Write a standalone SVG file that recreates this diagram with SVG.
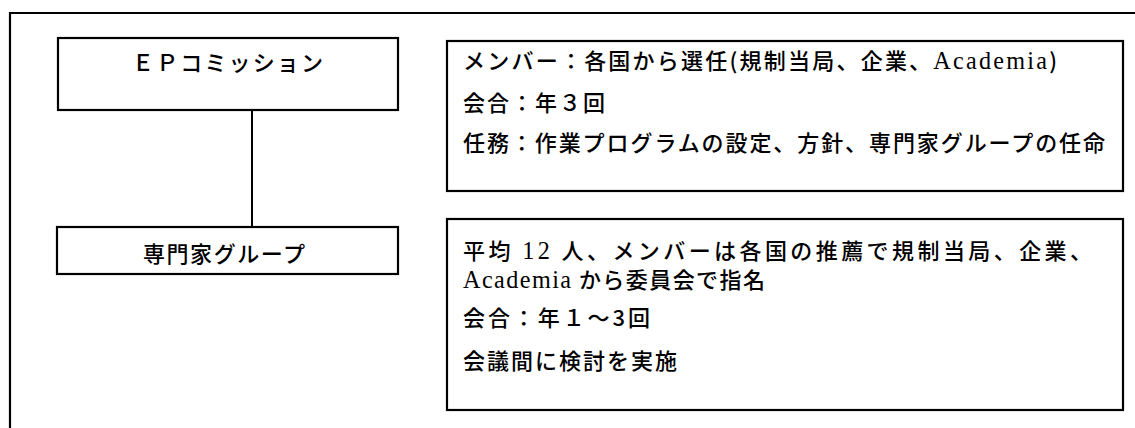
<svg xmlns="http://www.w3.org/2000/svg" width="1135" height="428" viewBox="0 0 1135 428">
<style>
.box{fill:#fff;stroke:#000;stroke-width:2.2}
.frame{fill:none;stroke:#000;stroke-width:2.2}
.t{font-family:"Noto Sans CJK JP","Liberation Sans",sans-serif;font-size:22px;font-weight:500;fill:#000}
.lat{font-family:"Liberation Serif","Noto Sans CJK JP",serif;font-weight:400;font-size:1.1em}
.conn{stroke:#000;stroke-width:2;fill:none}
</style>
<rect width="1135" height="428" fill="#fff"/>
<path class="frame" d="M10,428 V13 H1135"/>
<g id="connectors">
<line class="conn" x1="252" y1="110" x2="252" y2="227"/>
</g>
<g id="ep-commission">
<rect class="box" x="58" y="38" width="340" height="72"/>
<text class="t" x="132" y="71" font-size="20" textLength="191" lengthAdjust="spacing">ＥＰコミッション</text>
</g>
<g id="expert-group">
<rect class="box" x="57" y="227" width="341" height="47"/>
<text class="t" x="143" y="262" textLength="162" lengthAdjust="spacing">専門家グループ</text>
</g>
<g id="ep-commission-info">
<rect class="box" x="447" y="41" width="676" height="150"/>
<text class="t" x="463" y="69" textLength="594" lengthAdjust="spacing">メンバー：各国から選任(規制当局、企業、<tspan class="lat">Academia</tspan>)</text>
<text class="t" x="463" y="111" textLength="142" lengthAdjust="spacing">会合：年３回</text>
<text class="t" x="463" y="151" textLength="642" lengthAdjust="spacing">任務：作業プログラムの設定、方針、専門家グループの任命</text>
</g>
<g id="expert-group-info">
<rect class="box" x="447" y="219" width="676" height="191"/>
<text class="t" x="463" y="259" font-size="19.5" textLength="629" lengthAdjust="spacing">平均 <tspan class="lat">12</tspan> 人、メンバーは各国の推薦で規制当局、企業、</text>
<text class="t" x="463" y="288" font-size="19.5" textLength="302" lengthAdjust="spacing"><tspan class="lat">Academia</tspan> から委員会で指名</text>
<text class="t" x="463" y="326" textLength="187" lengthAdjust="spacing">会合：年１～3回</text>
<text class="t" x="463" y="369" textLength="214" lengthAdjust="spacing">会議間に検討を実施</text>
</g>
</svg>
